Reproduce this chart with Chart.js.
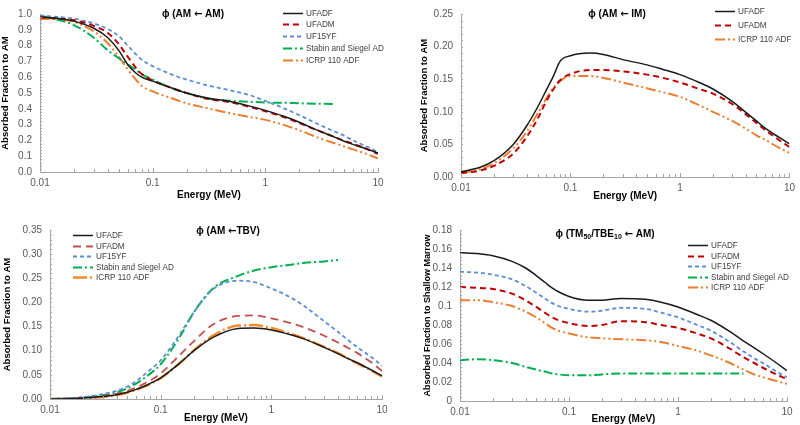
<!DOCTYPE html>
<html>
<head>
<meta charset="utf-8">
<script src="https://cdn.jsdelivr.net/npm/chart.js@4.4.0/dist/chart.umd.min.js"></script>
<style>
body { margin: 0; background: #fff; }
#wrap { position: relative; width: 800px; height: 425px; overflow: hidden; }
canvas { position: absolute; }
</style>
</head>
<body>
<div id="wrap">
  <canvas id="c1" width="400" height="212" style="left:0;top:0"></canvas>
  <canvas id="c2" width="400" height="212" style="left:400px;top:0"></canvas>
  <canvas id="c3" width="400" height="213" style="left:0;top:212px"></canvas>
  <canvas id="c4" width="400" height="213" style="left:400px;top:212px"></canvas>
</div>
<script>
// photon energy grid (MeV)
var energy = [0.01, 0.015, 0.02, 0.03, 0.04, 0.05, 0.06, 0.07, 0.08, 0.1, 0.15, 0.2, 0.3, 0.5, 0.7, 1, 1.5, 2, 3, 4, 5, 6, 8, 10];

// phi (AM <- AM)
var amAmUFADF  = [0.98, 0.97, 0.955, 0.91, 0.85, 0.77, 0.68, 0.63, 0.60, 0.575, 0.53, 0.50, 0.47, 0.445, 0.42, 0.39, 0.35, 0.315, 0.26, 0.225, 0.195, 0.175, 0.145, 0.12];
var amAmUFADM  = [0.98, 0.97, 0.96, 0.925, 0.88, 0.81, 0.73, 0.665, 0.62, 0.58, 0.53, 0.50, 0.465, 0.44, 0.415, 0.385, 0.345, 0.31, 0.26, 0.225, 0.198, 0.178, 0.145, 0.115];
var amAmUF15YF = [0.99, 0.98, 0.97, 0.94, 0.905, 0.86, 0.80, 0.75, 0.71, 0.67, 0.615, 0.585, 0.55, 0.515, 0.49, 0.45, 0.40, 0.36, 0.30, 0.26, 0.23, 0.20, 0.16, 0.125];
var amAmStabin = [0.99, 0.96, 0.93, 0.85, 0.77, 0.72, 0.68, 0.65, 0.62, 0.585, 0.53, 0.50, 0.465, 0.45, 0.445, 0.44, 0.438, 0.435, 0.432, 0.43, null, null, null, null];
var amAmICRP   = [0.97, 0.965, 0.95, 0.89, 0.815, 0.73, 0.65, 0.59, 0.545, 0.51, 0.465, 0.435, 0.405, 0.37, 0.35, 0.33, 0.295, 0.265, 0.215, 0.185, 0.162, 0.143, 0.113, 0.086];

// phi (AM <- IM)
var amImUFADF = [0.008, 0.015, 0.025, 0.05, 0.079, 0.107, 0.133, 0.155, 0.177, 0.186, 0.19, 0.188, 0.18, 0.172, 0.165, 0.157, 0.145, 0.135, 0.116, 0.099, 0.086, 0.075, 0.061, 0.051];
var amImUFADM = [0.006, 0.01, 0.017, 0.036, 0.062, 0.089, 0.116, 0.135, 0.148, 0.158, 0.164, 0.164, 0.162, 0.157, 0.152, 0.145, 0.135, 0.128, 0.112, 0.096, 0.083, 0.072, 0.057, 0.046];
var amImICRP  = [0.006, 0.012, 0.021, 0.044, 0.07, 0.097, 0.12, 0.137, 0.147, 0.155, 0.155, 0.152, 0.145, 0.136, 0.13, 0.123, 0.11, 0.1, 0.086, 0.074, 0.064, 0.057, 0.045, 0.037];

// phi (AM <- TBV)
var amTbvUFADF  = [0, 0.0005, 0.002, 0.005, 0.009, 0.014, 0.02, 0.026, 0.032, 0.044, 0.075, 0.1, 0.128, 0.146, 0.147, 0.143, 0.133, 0.124, 0.107, 0.094, 0.083, 0.075, 0.06, 0.048];
var amTbvUFADM  = [0, 0.001, 0.002, 0.006, 0.011, 0.017, 0.024, 0.031, 0.038, 0.053, 0.092, 0.12, 0.155, 0.172, 0.173, 0.167, 0.157, 0.148, 0.131, 0.117, 0.105, 0.095, 0.076, 0.058];
var amTbvUF15YF = [0, 0.002, 0.004, 0.01, 0.017, 0.026, 0.037, 0.049, 0.06, 0.08, 0.135, 0.18, 0.228, 0.245, 0.242, 0.229, 0.21, 0.192, 0.161, 0.139, 0.121, 0.107, 0.087, 0.069];
var amTbvStabin = [0, 0.001, 0.003, 0.008, 0.014, 0.022, 0.032, 0.042, 0.052, 0.072, 0.13, 0.18, 0.23, 0.255, 0.266, 0.273, 0.278, 0.282, 0.285, 0.288, null, null, null, null];
var amTbvICRP   = [0, 0.0005, 0.0015, 0.004, 0.008, 0.013, 0.019, 0.025, 0.031, 0.043, 0.075, 0.101, 0.132, 0.152, 0.153, 0.147, 0.135, 0.125, 0.108, 0.095, 0.083, 0.074, 0.059, 0.047];

// phi (TM50/TBE10 <- AM)
var tmAmUFADF  = [0.156, 0.155, 0.153, 0.147, 0.14, 0.132, 0.125, 0.119, 0.115, 0.11, 0.106, 0.106, 0.108, 0.107, 0.104, 0.099, 0.091, 0.085, 0.073, 0.063, 0.056, 0.05, 0.04, 0.032];
var tmAmUFADM  = [0.12, 0.119, 0.118, 0.113, 0.106, 0.099, 0.093, 0.088, 0.085, 0.082, 0.079, 0.08, 0.084, 0.083, 0.08, 0.077, 0.071, 0.066, 0.055, 0.046, 0.04, 0.035, 0.028, 0.023];
var tmAmUF15YF = [0.136, 0.135, 0.133, 0.128, 0.121, 0.114, 0.108, 0.103, 0.1, 0.097, 0.094, 0.095, 0.098, 0.097, 0.093, 0.088, 0.08, 0.074, 0.062, 0.052, 0.045, 0.04, 0.031, 0.025];
var tmAmStabin = [0.043, 0.044, 0.043, 0.04, 0.036, 0.033, 0.031, 0.029, 0.028, 0.027, 0.027, 0.028, 0.029, 0.029, 0.029, 0.029, 0.029, 0.029, 0.029, 0.029, null, null, null, null];
var tmAmICRP   = [0.106, 0.106, 0.104, 0.1, 0.094, 0.088, 0.082, 0.077, 0.074, 0.071, 0.067, 0.066, 0.065, 0.064, 0.062, 0.058, 0.053, 0.048, 0.04, 0.033, 0.028, 0.025, 0.021, 0.018];

var FONT = "'Liberation Sans', Arial, sans-serif";
var ARROW_FONT = "'DejaVu Sans', sans-serif";

var styles = {
    ufadf:  { color: '#1a1a1a', width: 1.5, dash: [] },
    ufadm:  { color: '#C00000', width: 2, dash: [6, 4] },
    uf15yf: { color: '#5B8ED6', width: 1.8, dash: [4, 3] },
    stabin: { color: '#00B050', width: 2, dash: [9, 3, 2, 3] },
    icrp:   { color: '#ED7D31', width: 2, dash: [10, 3, 2, 3, 2, 3] }
};

function series(label, values, st) {
    return {
        label: label,
        data: values.map(function (v, i) { return { x: energy[i], y: v }; }),
        borderColor: st.color,
        borderWidth: st.width,
        borderDash: st.dash,
        pointRadius: 0,
        fill: false,
        cubicInterpolationMode: 'monotone',
        spanGaps: false
    };
}

function segFont(seg) {
    if (seg[1] === 'sub') return 'bold 7px ' + FONT;
    if (seg[1] === 'arrow') return 'bold 10px ' + ARROW_FONT;
    return 'bold 10px ' + FONT;
}

// axis tick marks, in-plot title and in-plot legend
var panelDecor = {
    id: 'panelDecor',
    afterDatasetsDraw: function (chart, args, opts) {
        var ctx = chart.ctx, xs = chart.scales.x, ys = chart.scales.y, a = chart.chartArea;
        ctx.save();
        ctx.strokeStyle = '#A6A6A6';
        ctx.lineWidth = 1;
        ctx.setLineDash([]);
        ctx.beginPath();
        for (var d = -2; d <= 1; d++) {
            for (var k = 1; k <= 9; k++) {
                var v = k * Math.pow(10, d);
                if (v > 10.0001) break;
                var px = Math.round(xs.getPixelForValue(v)) + 0.5;
                ctx.moveTo(px, a.bottom);
                ctx.lineTo(px, a.bottom - (k === 1 ? 4 : 3));
            }
        }
        var n = Math.round((ys.max - ys.min) / opts.minorStep);
        for (var i = 0; i <= n; i++) {
            var py = Math.round(ys.getPixelForValue(ys.min + i * opts.minorStep)) + 0.5;
            ctx.moveTo(a.left, py);
            ctx.lineTo(a.left + 2, py);
        }
        ctx.stroke();

        // title, with subscripts and a wide arrow
        var total = 0;
        opts.title.forEach(function (seg) {
            ctx.font = segFont(seg);
            total += ctx.measureText(seg[0]).width;
        });
        var tx = opts.titleX - total / 2;
        ctx.fillStyle = '#000';
        ctx.textBaseline = 'middle';
        ctx.textAlign = 'left';
        opts.title.forEach(function (seg) {
            ctx.font = segFont(seg);
            ctx.fillText(seg[0], tx, opts.titleY + (seg[1] === 'sub' ? 3 : 0));
            tx += ctx.measureText(seg[0]).width;
        });

        // legend
        var lg = opts.legend;
        ctx.font = '8.2px ' + FONT;
        chart.data.datasets.forEach(function (ds, j) {
            var y = Math.round(lg.y + j * lg.dy) + 0.5;
            ctx.strokeStyle = ds.borderColor;
            ctx.lineWidth = ds.borderWidth;
            ctx.setLineDash(ds.borderDash);
            ctx.beginPath();
            ctx.moveTo(lg.x, y);
            ctx.lineTo(lg.x + lg.len, y);
            ctx.stroke();
            ctx.fillStyle = '#404040';
            ctx.fillText(ds.label, lg.x + lg.len + 3, y);
        });
        ctx.restore();
    }
};

function makePanel(id, p) {
    new Chart(document.getElementById(id), {
        type: 'line',
        data: { datasets: p.datasets },
        plugins: [panelDecor],
        options: {
            responsive: false,
            animation: false,
            devicePixelRatio: 1,
            layout: { padding: { top: p.padTop, right: p.padRight, bottom: 0, left: 0 } },
            plugins: {
                legend: { display: false },
                tooltip: { enabled: false },
                panelDecor: { minorStep: p.minorStep, title: p.title, titleX: p.titleX, titleY: p.titleY, legend: p.legend }
            },
            scales: {
                x: {
                    type: 'logarithmic',
                    min: 0.01,
                    max: 10,
                    afterFit: function (s) { s.height = p.xHeight; },
                    grid: { display: false, drawTicks: false },
                    border: { display: true, color: '#A6A6A6' },
                    ticks: {
                        autoSkip: false,
                        maxRotation: 0,
                        padding: 5,
                        color: '#595959',
                        font: { family: FONT, size: 10 },
                        callback: function (v) {
                            var l = Math.log10(v);
                            return Math.abs(l - Math.round(l)) < 1e-6 ? String(+v.toFixed(2)) : '';
                        }
                    },
                    title: {
                        display: true,
                        text: 'Energy (MeV)',
                        color: '#000',
                        font: { family: FONT, size: 10, weight: 'bold' },
                        padding: { top: 0, bottom: p.xTitlePad }
                    }
                },
                y: {
                    min: 0,
                    max: p.yMax,
                    afterFit: function (s) { s.width = p.yWidth; },
                    grid: { display: false, drawTicks: false },
                    border: { display: true, color: '#A6A6A6' },
                    ticks: {
                        stepSize: p.yStep,
                        padding: 8,
                        color: '#595959',
                        font: { family: FONT, size: 10 },
                        callback: p.yFormat
                    },
                    title: {
                        display: true,
                        text: p.yTitle,
                        color: '#000',
                        font: { family: FONT, size: p.yTitleSize, weight: 'bold' },
                        padding: { top: p.yTitlePad, bottom: 0 }
                    }
                }
            }
        }
    });
}

makePanel('c1', {
    datasets: [
        series('UFADF', amAmUFADF, styles.ufadf),
        series('UFADM', amAmUFADM, styles.ufadm),
        series('UF15YF', amAmUF15YF, styles.uf15yf),
        series('Stabin and Siegel AD', amAmStabin, styles.stabin),
        series('ICRP 110 ADF', amAmICRP, styles.icrp)
    ],
    padTop: 10, padRight: 22, xHeight: 40, yWidth: 40,
    yMax: 1.0, yStep: 0.1, minorStep: 0.02,
    yFormat: function (v) { return v.toFixed(1); },
    yTitle: 'Absorbed Fraction to AM', yTitleSize: 9.5, yTitlePad: 0, xTitlePad: 11,
    title: [['\u03D5 (AM ', ''], ['\u2190', 'arrow'], [' AM)', '']], titleX: 193, titleY: 14,
    legend: { x: 283, y: 12.5, dy: 11.8, len: 20 }
});

makePanel('c2', {
    datasets: [
        series('UFADF', amImUFADF, styles.ufadf),
        series('UFADM', amImUFADM, styles.ufadm),
        series('ICRP 110 ADF', amImICRP, styles.icrp)
    ],
    padTop: 13, padRight: 5, xHeight: 35, yWidth: 61,
    yMax: 0.25, yStep: 0.05, minorStep: 0.01,
    yFormat: function (v) { return v.toFixed(2); },
    yTitle: 'Absorbed Fraction to AM', yTitleSize: 9.5, yTitlePad: 19, xTitlePad: 10,
    title: [['\u03D5 (AM ', ''], ['\u2190', 'arrow'], [' IM)', '']], titleX: 217, titleY: 14,
    legend: { x: 315, y: 11, dy: 14, len: 20 }
});

makePanel('c3', {
    datasets: [
        series('UFADF', amTbvUFADF, styles.ufadf),
        series('UFADM', amTbvUFADM, { color: '#C0504D', width: 1.8, dash: [8, 5] }),
        series('UF15YF', amTbvUF15YF, styles.uf15yf),
        series('Stabin and Siegel AD', amTbvStabin, styles.stabin),
        series('ICRP 110 ADF', amTbvICRP, { color: '#F58A2E', width: 2.5, dash: [14, 3, 2, 3] })
    ],
    padTop: 18, padRight: 18, xHeight: 26, yWidth: 50,
    yMax: 0.35, yStep: 0.05, minorStep: 0.01,
    yFormat: function (v) { return v.toFixed(2); },
    yTitle: 'Absorbed Fraction to AM', yTitleSize: 9.5, yTitlePad: 2, xTitlePad: 1,
    title: [['\u03D5 (AM ', ''], ['\u2190', 'arrow'], ['TBV)', '']], titleX: 228, titleY: 19,
    legend: { x: 73, y: 23, dy: 10.5, len: 20 }
});

makePanel('c4', {
    datasets: [
        series('UFADF', tmAmUFADF, styles.ufadf),
        series('UFADM', tmAmUFADM, styles.ufadm),
        series('UF15YF', tmAmUF15YF, styles.uf15yf),
        series('Stabin and Siegel AD', tmAmStabin, styles.stabin),
        series('ICRP 110 ADF', tmAmICRP, styles.icrp)
    ],
    padTop: 18, padRight: 13, xHeight: 24, yWidth: 60,
    yMax: 0.18, yStep: 0.02, minorStep: 0.004,
    yFormat: function (v) { return String(+v.toFixed(2)); },
    yTitle: 'Absorbed Fraction to Shallow Marrow', yTitleSize: 9, yTitlePad: 22, xTitlePad: 0,
    title: [['\u03D5 (TM', ''], ['50', 'sub'], ['/TBE', ''], ['10', 'sub'], [' ', ''], ['\u2190', 'arrow'], [' AM)', '']], titleX: 205, titleY: 22,
    legend: { x: 288, y: 33, dy: 10.5, len: 20 }
});
</script>
</body>
</html>
